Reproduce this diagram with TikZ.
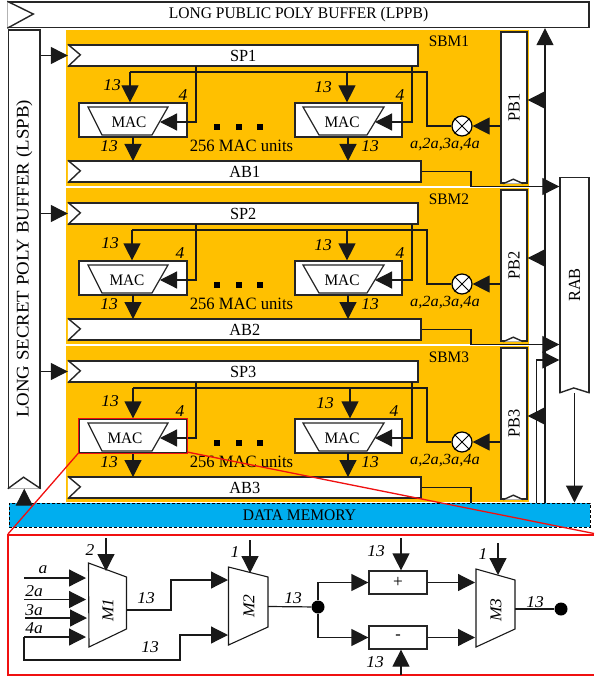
\documentclass[tikz,border=0pt]{standalone}
\usepackage{fontspec}
\setmainfont[FakeStretch=1.06]{Liberation Serif}
\newfontfamily\capsfont[FakeStretch=0.96]{Liberation Serif}
\usetikzlibrary{arrows.meta,calc}
\definecolor{sbmorange}{HTML}{FFC000}
\definecolor{dmblue}{HTML}{00AEEF}
\definecolor{zoomred}{HTML}{F01010}
\tikzset{
  wire/.style={draw=black!90,line width=1.2pt},
  arr/.style={wire,-{Triangle[length=17pt,width=17pt]}},
  box/.style={draw=black!85,line width=1.4pt,fill=white,inner sep=0pt,font=\capsfont\fontsize{17}{18}\selectfont,text=black},
  lbl/.style={inner sep=0pt,font=\capsfont\fontsize{16}{17}\selectfont},
  ilbl/.style={inner sep=0pt,font=\fontsize{16.5}{18}\selectfont\itshape},
  sq/.style={fill=black,inner sep=0pt,minimum size=6pt},
  joint/.style={circle,fill=black,inner sep=0pt,minimum size=13pt},
  redl/.style={draw=zoomred,line width=1.3pt},
  mux/.style={draw=black!90,line width=1.1pt,fill=white},
  mac/.style={draw=black!85,line width=1.2pt,fill=white},
}
\begin{document}
\begin{tikzpicture}[x=1pt,y=-1pt]
\useasboundingbox (0,0) rectangle (594,679);
% SBM backgrounds, buffers
\foreach \i/\o in {1/0,2/158,3/316}{
  \begin{scope}[yshift=-\o pt]
  \fill[sbmorange] (66,30) rectangle (529,185.5);
  \end{scope}
}
\node[box,minimum width=581,minimum height=25.5] (lppb) at (298.5,14.75) {\fontsize{16.2}{17}\selectfont LONG PUBLIC POLY BUFFER (LPPB)};
\node[box,minimum width=31.5,minimum height=458] (lspb) at (24.25,259) {\rotatebox{90}{\normalfont\fontsize{17.8}{19}\selectfont LONG SECRET POLY BUFFER (LSPB)}};
\draw[box] (lppb.north west) -- ++(26,12.75) -- (lppb.south west);
\draw[box] (lspb.south west) -- ++(15.75,-11.5) -- (lspb.south east);
\node[box,minimum width=29,minimum height=214.5] (rab) at (574.5,285) {\rotatebox{90}{RAB}};
\draw[box] (rab.south west) -- ++(14.5,-5) -- (rab.south east);
\node[draw=black,densely dashed,line width=1pt,fill=dmblue,inner sep=0pt,minimum width=581,minimum height=24,font=\capsfont\fontsize{16.2}{17}\selectfont] (dm) at (299.5,515) {DATA MEMORY};
\coordinate (bus) at (545,503);
\coordinate (bus3) at (536.5,503);
\draw[arr] (bus) -- (bus |- lppb.south);
\draw[arr] (bus3) -- (536.5,360) -- (rab.west |- 0,360);
\draw[arr] (rab.south) -- (rab.south |- dm.north);
\draw[arr] (lspb.south |- dm.north) -- (lspb.south);
% three SBM blocks
\foreach \i/\o/\ax/\bx/\mx/\fa/\fb/\fc/\fd/\fe in {
  1/0/130/347/129/183/400/112/323/0,
  2/158/132/347/127/180/400/110/323/0,
  3/316/133/350/125/180/394/110/325/0}{
\begin{scope}[yshift=-\o pt]
  \node[lbl] (sbmname\i) at (449,41) {SBM\i};
  \node[box,minimum width=349.5,minimum height=21] (sp\i) at (243.25,55.5) {SP\i};
  \node[box,minimum width=352.5,minimum height=21] (ab\i) at (244.75,171.5) {AB\i};
  \node[box,minimum width=26,minimum height=151] (pb\i) at (514,107.5) {\rotatebox{90}{PB\i}};
  \draw[box] (sp\i.north west) -- ++(12.5,10.5) -- (sp\i.south west);
  \draw[box] (ab\i.north west) -- ++(12.5,10.5) -- (ab\i.south west);
  \draw[box] (pb\i.south west) ++(3,0) -- ++(10,-4.5) -- ++(10,4.5);
  \node[box,line width=1.2pt,minimum width=108,minimum height=34] (maca\i) at (133,120) {};
  \node[box,line width=1.2pt,minimum width=107,minimum height=34] (macb\i) at (348.5,120) {};
  \draw[mac] (88,107) -- (168,107) -- (152,135) -- (102,135) -- cycle;
  \draw[mac] (303,107) -- (384,107) -- (367,135) -- (319,135) -- cycle;
  \node[lbl] (maclabela\i) at (\mx,122) {MAC};
  \node[lbl] (maclabelb\i) at (342,122) {MAC};
  \coordinate (tapa\i) at (196,66);
  \coordinate (tapb\i) at (412,66);
  \coordinate (ina\i) at (160,122);
  \coordinate (inb\i) at (375,122);
  \coordinate (bara\i) at (\ax,72);
  \coordinate (barb\i) at (\bx,72);
  \coordinate (barr\i) at (427,72);
  \coordinate (outw\i) at (471,186.5);
  \node[circle,draw=black,line width=1.2pt,fill=white,minimum size=20pt,inner sep=0pt] (xor\i) at (462,126) {};
  \draw[line width=.9pt] (xor\i.north west) -- (xor\i.south east) (xor\i.north east) -- (xor\i.south west);
  \draw[arr] (lspb.east |- sp\i.west) -- (sp\i.west);
  \draw[arr] (tapa\i) |- (ina\i);
  \draw[arr] (tapb\i) |- (inb\i);
  \draw[wire] (bara\i) -- (barr\i) |- (xor\i.west);
  \draw[arr] (bara\i) -- (bara\i |- maca\i.north);
  \draw[arr] (barb\i) -- (barb\i |- macb\i.north);
  \draw[arr] (133,137) -- (133 ,161);
  \draw[arr] (348,137) -- (348,161);
  \draw[arr] (pb\i.west |- xor\i.east) -- (xor\i.east);
  \draw[wire] (ab\i.east) -| (outw\i);
  \coordinate (busp\i) at (545,100);
  \draw[arr] (busp\i) -- (busp\i -| pb\i.east);
  \node[ilbl] (la\i) at (\fc,85) {13};
  \node[ilbl] (lb\i) at (109,146) {13};
  \node[ilbl] (lc\i) at (\fa,95) {4};
  \node[ilbl] (ld\i) at (\fd,87) {13};
  \node[ilbl] (le\i) at (\fb,95) {4};
  \node[ilbl] (lf\i) at (370,146) {13};
  \node[ilbl,font=\fontsize{15.5}{17}\selectfont\itshape] (lg\i) at (445,145) {a,2a,3a,4a};
  \node[lbl,font=\capsfont\fontsize{17.3}{18}\selectfont] (units\i) at (241.5,146) {256 MAC units};
  \node[sq] (dota\i) at (217,127) {};
  \node[sq] (dotb\i) at (238.5,127) {};
  \node[sq] (dotc\i) at (260,127) {};
\end{scope}
}
\draw[arr] (outw1) -- (outw1 -| rab.west);
\draw[arr] (outw2) -- (outw2 -| rab.west);
% zoom frame
\draw[redl] (78.5,453) -- (8,534);
\draw[redl] (187,452) -- (594,533.5);
\draw[redl] (594,535) -- (8,535) -- (8,675) -- (594,675);
\draw[redl,line width=1.2pt] (maca3.south west) rectangle (maca3.north east);
% detail: multiplexers
\draw[mux] (88.5,563) -- (126.5,577) -- (126.5,629) -- (89,647) -- cycle;
\draw[mux] (228.5,567) -- (268,577) -- (268,627) -- (228.5,645) -- cycle;
\draw[mux] (476,569) -- (515,580) -- (515,629) -- (476,647) -- cycle;
\node[ilbl,rotate=90] (m1) at (108,610) {M1};
\node[ilbl,rotate=90] (m2) at (249,606) {M2};
\node[ilbl,rotate=90] (m3) at (496,610) {M3};
\node[box,line width=1.2pt,minimum width=58,minimum height=23] (plus) at (398,582.5) {\fontsize{18}{18}\selectfont +};
\node[box,line width=1.2pt,minimum width=58,minimum height=23] (minus) at (398,637.5) {-};
\node[joint] (ja) at (318,607) {};
\node[joint] (jb) at (561,609) {};
\coordinate (ma) at (106,538); \coordinate (mae) at (106,571);
\coordinate (mb) at (250,540); \coordinate (mbe) at (250,573);
\coordinate (mc) at (498,543); \coordinate (mce) at (498,575);
\coordinate (pt) at (401,538); \coordinate (mt) at (401,675);
\draw[arr] (ma) -- (mae);
\draw[arr] (mb) -- (mbe);
\draw[arr] (mc) -- (mce);
\draw[arr] (pt) -- (pt |- plus.north);
\draw[arr] (mt) -- (mt |- minus.south);
\coordinate (ia) at (24,578); \coordinate (iae) at (86,578);
\coordinate (ib) at (24,599.5); \coordinate (ibe) at (86,599.5);
\coordinate (ic) at (25,618); \coordinate (ice) at (87,618);
\coordinate (id) at (24,637); \coordinate (ide) at (86,637);
\draw[arr] (ia) -- (iae);
\draw[arr] (ib) -- (ibe);
\draw[arr] (ic) -- (ice);
\draw[arr] (id) -- (ide);
\coordinate (m1o) at (126.5,610); \coordinate (m2a) at (228,580); \coordinate (m2b) at (228,635);
\coordinate (m2o) at (268,606.5); \coordinate (m3a) at (475,582.5); \coordinate (m3b) at (475,637.5);
\coordinate (m3o) at (515,609);
\draw[arr] (m1o) -- (171,610) -- (171,580) -- (m2a);
\draw[arr] (id) -- (24,660) -- (180,660) -- (180,635) -- (m2b);
\draw[wire] (m2o) -- (ja);
\draw[arr] (ja) |- (plus.west);
\draw[arr] (ja) |- (minus.west);
\draw[arr] (plus.east) -- (m3a);
\draw[arr] (minus.east) -- (m3b);
\draw[wire] (m3o) -- (jb);
% detail labels
\node[ilbl] (ta) at (43,570) {a};
\node[ilbl] (tb) at (34,591) {2a};
\node[ilbl] (tc) at (34,610) {3a};
\node[ilbl] (td) at (34,628) {4a};
\node[ilbl] (te) at (90,550) {2};
\node[ilbl] (tf) at (235,552) {1};
\node[ilbl] (tg) at (483,554) {1};
\node[ilbl] (th) at (146,598) {13};
\node[ilbl] (ti) at (150,647) {13};
\node[ilbl] (tj) at (293,598) {13};
\node[ilbl] (tk) at (376,551) {13};
\node[ilbl] (tl) at (375,662) {13};
\node[ilbl] (tm) at (535,602) {13};
\end{tikzpicture}
\end{document}
